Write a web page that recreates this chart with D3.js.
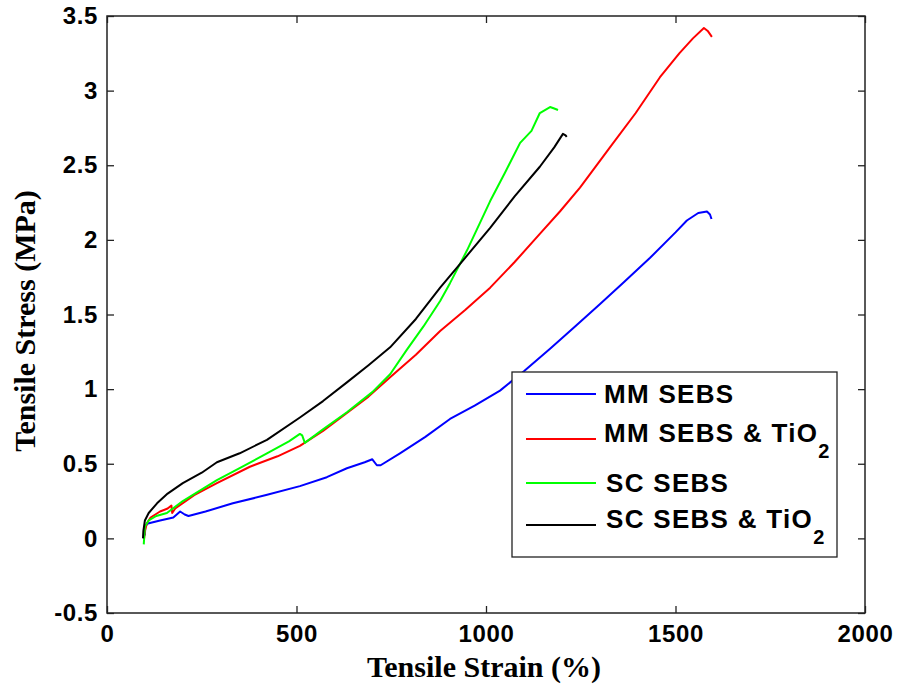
<!DOCTYPE html>
<html>
<head>
<meta charset="utf-8">
<script src="https://cdn.jsdelivr.net/npm/d3@7"></script>
<style>
  body { margin: 0; background: #fff; }
  svg { display: block; }
</style>
</head>
<body>
<div id="chart"></div>
<script>
// tick values
const xTicks = [0, 500, 1000, 1500, 2000];
const yTicks = [-0.5, 0, 0.5, 1, 1.5, 2, 2.5, 3, 3.5];

// MM SEBS (blue)
const mmStrain = [100, 101, 108, 140, 175, 193, 205, 215, 260, 332, 420, 509, 580, 633, 680, 700, 712, 722, 773, 840, 905, 970, 1037, 1100, 1169, 1235, 1301, 1365, 1433, 1500, 1530, 1560, 1583, 1591, 1595];
const mmStress = [0.02, 0.08, 0.1, 0.12, 0.14, 0.18, 0.16, 0.15, 0.18, 0.235, 0.29, 0.35, 0.41, 0.47, 0.51, 0.53, 0.49, 0.49, 0.57, 0.68, 0.80, 0.89, 0.99, 1.12, 1.27, 1.42, 1.57, 1.72, 1.88, 2.05, 2.13, 2.18, 2.19, 2.17, 2.14];

// MM SEBS & TiO2 (red)
const mmTiStrain = [98, 100, 105, 115, 140, 160, 170, 172, 180, 230, 290, 377, 450, 509, 570, 633, 690, 747, 815, 879, 945, 1011, 1075, 1142, 1195, 1248, 1327, 1395, 1459, 1510, 1546, 1575, 1585, 1596];
const mmTiStress = [0.0, 0.05, 0.1, 0.14, 0.18, 0.2, 0.22, 0.17, 0.2, 0.29, 0.37, 0.48, 0.55, 0.62, 0.72, 0.84, 0.95, 1.08, 1.23, 1.39, 1.53, 1.68, 1.85, 2.04, 2.19, 2.35, 2.62, 2.85, 3.09, 3.25, 3.35, 3.42, 3.40, 3.36];

// SC SEBS (green)
const scStrain = [97, 98, 100, 110, 130, 158, 200, 290, 350, 422, 480, 509, 515, 522, 570, 633, 700, 747, 790, 835, 879, 905, 950, 1011, 1050, 1090, 1120, 1142, 1169, 1180, 1190];
const scStress = [-0.04, 0.0, 0.08, 0.12, 0.15, 0.17, 0.25, 0.39, 0.47, 0.57, 0.65, 0.70, 0.69, 0.64, 0.73, 0.845, 0.98, 1.10, 1.26, 1.42, 1.59, 1.71, 1.93, 2.26, 2.45, 2.65, 2.73, 2.85, 2.89, 2.88, 2.87];

// SC SEBS & TiO2 (black)
const scTiStrain = [95, 96, 100, 110, 132, 160, 200, 250, 290, 350, 422, 509, 570, 633, 690, 747, 815, 879, 945, 1011, 1075, 1142, 1180, 1203, 1210, 1213];
const scTiStress = [0.0, 0.05, 0.12, 0.17, 0.235, 0.30, 0.37, 0.44, 0.51, 0.57, 0.66, 0.81, 0.92, 1.045, 1.16, 1.28, 1.47, 1.68, 1.88, 2.08, 2.29, 2.49, 2.62, 2.71, 2.70, 2.69];

const seriesNames = ["MM SEBS", "MM SEBS & TiO", "SC SEBS", "SC SEBS & TiO"];
const seriesSub = ["", "2", "", "2"];
const seriesColors = ["#0000ff", "#ff0000", "#00ff00", "#000000"];

const width = 897;
const height = 689;
const plotL = 107, plotR = 865, plotT = 16, plotB = 613;

const svg = d3.select("#chart").append("svg")
  .attr("width", width)
  .attr("height", height);

svg.append("rect").attr("width", width).attr("height", height).attr("fill", "#fff");

const x = d3.scaleLinear().domain([0, 2000]).range([plotL, plotR]);
const y = d3.scaleLinear().domain([-0.5, 3.5]).range([plotB, plotT]);

const tickFont = "'Liberation Sans', Arial, sans-serif";
const titleFont = "'Liberation Serif', 'Times New Roman', serif";

// axes (ticks pointing inward, box on all sides)
const gx = svg.append("g")
  .attr("transform", `translate(0,${plotB})`)
  .call(d3.axisBottom(x).tickValues(xTicks).tickSize(-7).tickPadding(12).tickFormat(d3.format("d")));
const gy = svg.append("g")
  .attr("transform", `translate(${plotL},0)`)
  .call(d3.axisLeft(y).tickValues(yTicks).tickSize(-7).tickPadding(9).tickFormat(d => String(d)));
const gt = svg.append("g")
  .attr("transform", `translate(0,${plotT})`)
  .call(d3.axisTop(x).tickValues(xTicks).tickSize(-7).tickFormat(""));
const gr = svg.append("g")
  .attr("transform", `translate(${plotR},0)`)
  .call(d3.axisRight(y).tickValues(yTicks).tickSize(-7).tickFormat(""));

[gx, gy, gt, gr].forEach(g => {
  g.select(".domain").remove();
  g.selectAll("line").attr("stroke", "#222").attr("stroke-width", 1.3);
  g.selectAll("text")
    .attr("fill", "#000")
    .style("font-family", tickFont)
    .style("font-weight", "bold")
    .style("font-size", "24px")
    .style("letter-spacing", "0.6px");
});

svg.append("rect")
  .attr("x", plotL).attr("y", plotT)
  .attr("width", plotR - plotL).attr("height", plotB - plotT)
  .attr("fill", "none").attr("stroke", "#222").attr("stroke-width", 1.5);

// curves
const line = d3.line().x(d => x(d[0])).y(d => y(d[1]));
const curves = [
  [mmStrain, mmStress],
  [mmTiStrain, mmTiStress],
  [scStrain, scStress],
  [scTiStrain, scTiStress]
];
curves.forEach((c, i) => {
  const pts = c[0].map((v, k) => [v, c[1][k]]);
  svg.append("path")
    .datum(pts)
    .attr("d", line)
    .attr("fill", "none")
    .attr("stroke", seriesColors[i])
    .attr("stroke-width", 2)
    .attr("stroke-linejoin", "round");
});

// axis titles
svg.append("text")
  .attr("x", 484)
  .attr("y", 677)
  .attr("text-anchor", "middle")
  .style("font-family", titleFont)
  .style("font-weight", "bold")
  .style("font-size", "30px")
  .text("Tensile Strain (%)");

svg.append("text")
  .attr("transform", "translate(35,321) rotate(-90)")
  .attr("text-anchor", "middle")
  .style("font-family", titleFont)
  .style("font-weight", "bold")
  .style("font-size", "30px")
  .text("Tensile Stress (MPa)");

// legend
const legend = svg.append("g");
legend.append("rect")
  .attr("x", 512).attr("y", 372)
  .attr("width", 325).attr("height", 185)
  .attr("fill", "#fff").attr("stroke", "#222").attr("stroke-width", 1.3);

const lineYs = [394, 439, 483, 525];
const textYs = [403, 442, 492, 528];
seriesNames.forEach((name, i) => {
  legend.append("line")
    .attr("x1", 526).attr("x2", 596)
    .attr("y1", lineYs[i]).attr("y2", lineYs[i])
    .attr("stroke", seriesColors[i]).attr("stroke-width", 2);
  const t = legend.append("text")
    .attr("x", i < 2 ? 604 : 606)
    .attr("y", textYs[i])
    .style("font-family", tickFont)
    .style("font-weight", "bold")
    .style("font-size", "26px")
    .style("letter-spacing", "1.3px")
    .text(name);
  if (seriesSub[i]) {
    t.append("tspan")
      .attr("dy", 16)
      .style("font-size", "20px")
      .text(seriesSub[i]);
  }
});
</script>
</body>
</html>
